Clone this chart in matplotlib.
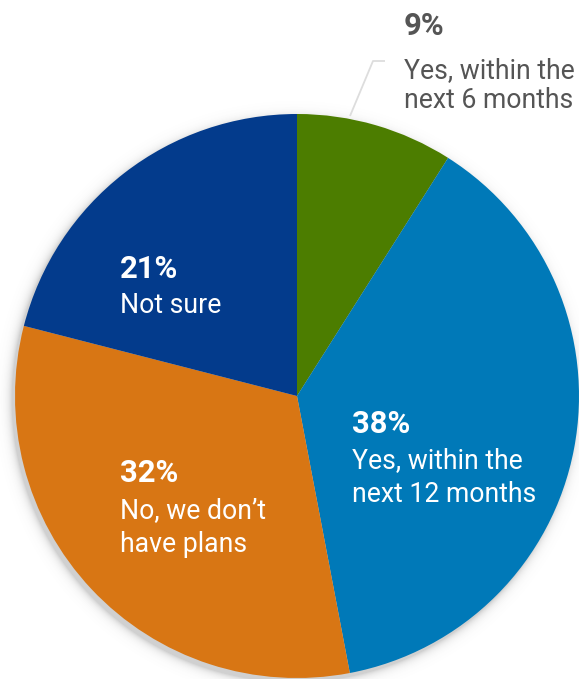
import matplotlib.pyplot as plt
import numpy as np

plt.rcParams['font.family'] = ['Roboto', 'DejaVu Sans']

# Survey shares, drawn clockwise from 12 o'clock
labels = ['Yes, within the\nnext 6 months', 'Yes, within the\nnext 12 months',
          'No, we don\u2019t\nhave plans', 'Not sure']
shares = [9, 38, 32, 21]
colors = ['#4c7d00', '#0079b8', '#d87614', '#033b8c']

W, H = 579, 679
cx, cy, r = 297, 396, 282

fig = plt.figure(figsize=(W / 100, H / 100), dpi=100)
ax = fig.add_axes([0, 0, 1, 1])

# soft drop shadow behind the pie
yy, xx = np.mgrid[0:H, 0:W] + 0.5
d = np.hypot(xx - (cx - 3), yy - (cy + 4)) - r
alpha = np.clip(np.exp(-np.clip(d, 0, None) / 4.0), 0, 1) * 0.28
shadow = np.zeros((H, W, 4))
shadow[..., :3] = 0.35
shadow[..., 3] = alpha
ax.imshow(shadow, extent=(0, W, H, 0), zorder=0, interpolation='bilinear')

# y axis runs downward, so counterclockwise in data is clockwise on screen
wedges, _ = ax.pie(shares, colors=colors, startangle=-90, counterclock=True,
                   radius=r, center=(cx, cy), frame=True,
                   wedgeprops=dict(linewidth=0))
for w in wedges:
    w.set_zorder(1)
ax.set_xlim(0, W)
ax.set_ylim(H, 0)
ax.set_aspect('equal')
ax.axis('off')


def put_label(i, x, y_pct, y_lines, color):
    ax.text(x, y_pct, f'{shares[i]}%', color=color, fontsize=22.3, fontweight='bold',
            ha='left', va='baseline', zorder=3)
    for line, y in zip(labels[i].split('\n'), y_lines):
        ax.text(x, y, line, color=color, fontsize=19.2, ha='left', va='baseline',
                zorder=3)


# labels inside the larger slices
put_label(1, 352, 433, [468, 502], 'white')
put_label(2, 120, 482, [518, 552], 'white')
put_label(3, 120, 278, [313], 'white')

# small slice: label outside with a leader line
ax.plot([350, 373, 385], [116, 61, 61], color='#dddddd', lw=1.3, zorder=2,
        solid_capstyle='butt')
put_label(0, 404, 35, [78, 108], '#555555')

fig.savefig('out.png', dpi=100, facecolor='white')
